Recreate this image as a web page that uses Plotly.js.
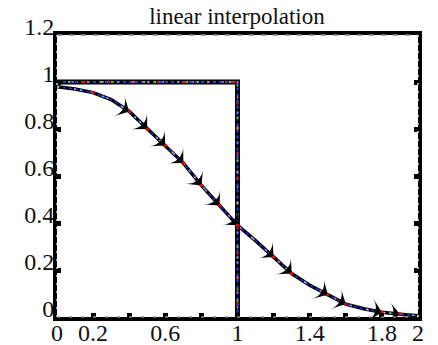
<!DOCTYPE html>
<html><head><meta charset="utf-8">
<script src="https://cdn.plot.ly/plotly-3.0.1.min.js"></script>
<style>html,body{margin:0;padding:0;background:#fff}</style>
</head><body><div id="chart" style="width:438px;height:345px"></div>
<script>
// step (exact) data
var stepX = [0, 1, 1];
var stepY = [1, 1, 0];
// interpolated curve
var curveX = [0, 0.1, 0.2, 0.3, 0.4, 0.5, 0.6, 0.7, 0.8, 0.9, 1.0, 1.1, 1.2, 1.3, 1.4, 1.5, 1.6, 1.7, 1.8, 1.9, 2.0];
var curveY = [0.98, 0.97, 0.955, 0.925, 0.875, 0.80, 0.73, 0.655, 0.56, 0.475, 0.39, 0.325, 0.255, 0.185, 0.135, 0.095, 0.055, 0.035, 0.02, 0.012, 0.005];
var xTickVals = [0, 0.2, 0.4, 0.6, 0.8, 1, 1.2, 1.4, 1.6, 1.8, 2];
var xTickText = ['0', '0.2', '', '0.6', '', '1', '', '1.4', '', '1.8', '2'];
var yTickVals = [0, 0.2, 0.4, 0.6, 0.8, 1, 1.2];
var yTickText = ['0', '0.2', '0.4', '0.6', '0.8', '1', '1.2'];

var arrowIdx = [2, 4, 5, 6, 7, 8, 9, 10, 12, 13, 15, 16, 18, 19];
var arrowX = arrowIdx.map(function(i){return curveX[i];});
var arrowY = arrowIdx.map(function(i){return curveY[i];});

var traces = [
  {x: stepX, y: stepY, mode: 'lines', line: {color: '#000', width: 5}},
  {x: stepX, y: stepY, mode: 'lines', line: {color: '#1f3fff', width: 2, dash: 'dot'}},
  {x: stepX, y: stepY, mode: 'lines', line: {color: '#e02020', width: 2, dash: '3px,22px'}},
  {x: stepX, y: stepY, mode: 'lines', line: {color: '#80c020', width: 2, dash: '2px,9px,2px,30px'}},
  {x: stepX, y: stepY, mode: 'lines', line: {color: '#c080ff', width: 1.5, dash: '2px,13px'}},
  {x: curveX, y: curveY, mode: 'lines', line: {color: '#000', width: 3.5}},
  {x: curveX, y: curveY, mode: 'lines', line: {color: '#2030ff', width: 1.5, dash: 'dot'}},
  {x: curveX, y: curveY, mode: 'lines', line: {color: '#ff9090', width: 1.5, dash: '2px,15px'}},
  {x: curveX, y: curveY, mode: 'lines', line: {color: '#60e0e0', width: 1.5, dash: '2px,21px'}},
  {x: arrowX, y: arrowY, mode: 'markers', marker: {symbol: 'arrow-wide', size: 16, color: '#000', angleref: 'previous', line: {width: 0}}},
  {x: arrowX, y: arrowY, mode: 'markers', marker: {symbol: 'square', size: 3, color: '#c01010', line: {width: 0}}}
];

var fam = 'Liberation Serif, Times New Roman, serif';
var fnt = {family: fam, size: 24, color: '#111'};
var layout = {
  width: 438, height: 345,
  margin: {l: 57, r: 20, t: 35, b: 28, pad: 0},
  paper_bgcolor: '#fff', plot_bgcolor: '#fff',
  showlegend: false,
  font: {family: fam},
  title: {text: 'linear interpolation', font: {family: fam, size: 23, color: '#111'}, x: 0.541, xanchor: 'center', y: 0.955, yanchor: 'middle'},
  xaxis: {range: [0, 2], tickvals: xTickVals, ticktext: xTickText, ticks: 'inside', ticklen: 4, tickwidth: 5, tickcolor: '#000',
          showline: true, linewidth: 4, linecolor: '#000', mirror: true, showgrid: false, zeroline: false, tickfont: fnt,
          ticklabelstandoff: -9, fixedrange: true},
  yaxis: {range: [0, 1.2], tickvals: yTickVals, ticktext: yTickText, ticks: 'inside', ticklen: 4, tickwidth: 5, tickcolor: '#000',
          showline: true, linewidth: 4, linecolor: '#000', mirror: 'ticks', showgrid: false, zeroline: false, tickfont: fnt,
          ticklabelshift: -8, ticklabelstandoff: -6, fixedrange: true},
  shapes: [
    {type: 'line', xref: 'paper', yref: 'paper', x0: 0, x1: 1, y0: 1, y1: 1, line: {color: '#888', width: 1.5, dash: '5px,7px'}},
    {type: 'line', xref: 'paper', yref: 'paper', x0: 0, x1: 1, y0: 0, y1: 0, line: {color: '#888', width: 1.5, dash: '3px,9px'}},
    {type: 'line', xref: 'paper', yref: 'paper', x0: 0, x1: 0, y0: 0, y1: 1, line: {color: '#ddd', width: 1.5, dash: '2px,6px'}},
    {type: 'line', xref: 'paper', yref: 'paper', x0: 1, x1: 1, y0: 0, y1: 1, line: {color: '#ddd', width: 1.5, dash: '2px,6px'}}
  ]
};
Plotly.newPlot('chart', traces, layout, {displayModeBar: false, staticPlot: true});
</script>
</body></html>
